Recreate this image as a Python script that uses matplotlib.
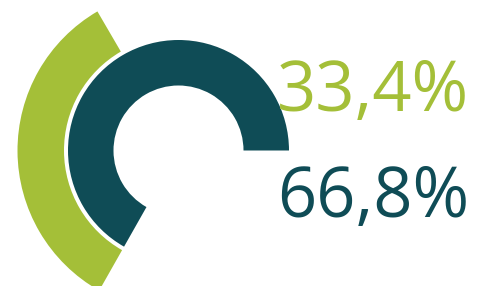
import matplotlib
matplotlib.use("Agg")
import matplotlib.pyplot as plt

# Данные
labels = ["33,4%", "66,8%"]
values = [33.4, 66.8]
colors = ["#A4BF38", "#0F4C56"]

W, H = 478, 286
cx, cy = 178.5, H - 150.5  # центр колец в пикселях

fig = plt.figure(figsize=(W / 100, H / 100), dpi=100)
ax = fig.add_axes([0, 0, 1, 1])

# Тёмное (внутреннее) кольцо: от 0° против часовой стрелки
ax.pie([values[1], 100 - values[1]], startangle=0, counterclock=True,
       radius=110.5, center=(cx, cy), colors=[colors[1], "none"],
       wedgeprops=dict(width=45.5, linewidth=0))

# Зелёное (внешнее) кольцо: заканчивается там же, где тёмное
end = values[1] * 3.6
ax.pie([values[0], 100 - values[0]], startangle=end - values[0] * 3.6,
       counterclock=True, radius=161, center=(cx, cy),
       colors=[colors[0], "none"], wedgeprops=dict(width=46.5, linewidth=0))

ax.set_xlim(0, W)
ax.set_ylim(0, H)
ax.set_aspect("equal")
ax.axis("off")

# Подписи
ax.text(469, H - 111, labels[0], color=colors[0], fontsize=49.4,
        family="Open Sans", ha="right", va="baseline")
ax.text(469, H - 217, labels[1], color=colors[1], fontsize=49.4,
        family="Open Sans", ha="right", va="baseline")

fig.savefig("out.png", dpi=100, facecolor="white")
